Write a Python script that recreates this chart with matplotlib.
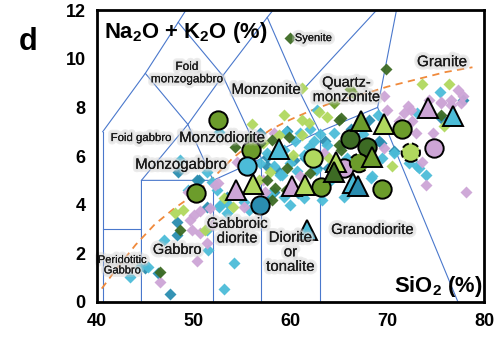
import matplotlib
matplotlib.use('Agg')
import matplotlib.pyplot as plt
import matplotlib.patheffects as pe

plt.rcParams['font.family'] = ['Liberation Sans', 'DejaVu Sans']
plt.rcParams['mathtext.fontset'] = 'custom'
plt.rcParams['mathtext.rm'] = 'Liberation Sans'
plt.rcParams['mathtext.bf'] = 'Liberation Sans:bold'
plt.rcParams['mathtext.default'] = 'bf'

# colours of the sample groups
dg = '#3d6b24'
mg = '#6c9c2b'
lg = '#b0d85e'
cy = '#4cbcd8'
dt = '#2a8db0'
li = '#cda5d6'

# small diamonds, one list per group (SiO2, Na2O+K2O)
dia_dg = [(60.0, 10.85), (69.9, 9.57), (46.5, 1.25), (48.6, 2.96), (54.3, 6.39), (55.7, 6.73),
          (58.1, 6.67), (56.9, 6.53), (57.6, 5.02), (54.6, 4.47), (59.65, 5.5), (59.5, 4.6),
          (58.4, 4.68), (59.8, 6.8), (65.0, 7.49), (65.0, 6.46), (65.2, 7.56), (75.5, 7.7),
          (58.1, 4.2), (65.2, 6.26), (62.0, 5.3)]
dia_mg = [(66.1, 8.75), (66.5, 8.6), (64.5, 8.18)]
dia_lg = [(73.6, 8.95), (76.4, 8.95), (61.2, 8.79), (59.3, 7.7), (61.2, 7.49), (61.9, 7.35),
          (62.9, 7.83), (63.8, 7.6), (57.2, 6.53), (58.8, 6.87), (60.3, 6.05), (57.9, 5.36),
          (56.7, 5.02), (62.6, 5.84), (61.2, 6.87), (63.96, 5.91), (70.5, 5.57), (75.9, 7.25),
          (54.1, 3.92), (48.9, 3.79), (48.1, 3.65), (53.1, 4.27), (51.2, 2.96), (56.0, 7.3)]
dia_cy = [(59.5, 7.0), (62.4, 6.6), (64.5, 6.94), (63.8, 6.46), (65.35, 6.46), (60.0, 5.7),
          (59.1, 5.23), (61.4, 4.27), (63.3, 4.2), (70.7, 6.12), (68.46, 5.16), (73.1, 7.77),
          (69.0, 7.7), (72.26, 5.7), (73.3, 5.5), (74.0, 5.23), (68.3, 5.09), (73.1, 5.57),
          (75.4, 8.62), (62.75, 7.9), (52.57, 7.0), (57.6, 6.12), (58.6, 6.19), (58.27, 5.57),
          (56.9, 5.7), (53.1, 0.52), (54.2, 1.59), (43.4, 1.04), (44.45, 1.45), (45.3, 1.45),
          (46.9, 2.55), (51.5, 2.14), (51.35, 2.96), (52.57, 3.92), (53.4, 4.06), (55.2, 4.13),
          (51.9, 4.95), (52.75, 3.99), (55.7, 3.79), (53.4, 3.65), (48.6, 5.84), (49.46, 4.6),
          (51.37, 5.36), (52.4, 4.6), (59.3, 6.26), (61.4, 6.05), (61.0, 6.94), (61.9, 6.39),
          (58.96, 5.23), (62.6, 5.43), (65.5, 4.33), (59.3, 4.33), (60.5, 6.6), (62.0, 7.1),
          (63.0, 6.9), (60.7, 5.4), (64.2, 5.0), (65.8, 5.9), (60.0, 4.0), (58.0, 4.5),
          (67.5, 6.9), (69.5, 5.9)]
dia_dt = [(47.56, 0.33), (46.35, 1.21), (48.26, 2.76), (48.26, 3.3), (51.35, 3.92), (50.33, 5.02),
          (48.4, 5.36), (50.5, 5.02), (53.4, 4.33), (57.6, 4.2), (57.6, 5.98), (56.9, 6.94),
          (59.65, 7.01), (63.6, 6.6), (57.6, 5.57), (60.35, 5.84), (58.8, 5.36), (58.27, 4.54),
          (62.75, 5.5), (69.3, 6.53), (69.15, 6.6), (70.7, 6.19), (68.1, 7.49), (75.5, 7.56),
          (77.8, 8.31), (45.0, 1.38), (61.5, 5.9), (63.9, 5.5), (60.8, 4.5), (66.3, 7.1)]
dia_li = [(46.5, 0.84), (50.33, 1.69), (51.35, 2.41), (50.67, 2.83), (49.8, 2.96), (49.6, 3.37),
          (50.0, 3.58), (50.67, 3.72), (51.9, 3.17), (52.5, 4.88), (54.47, 5.77), (52.2, 4.81),
          (55.2, 3.92), (49.46, 4.54), (51.7, 3.86), (58.27, 6.94), (57.2, 5.02), (61.0, 5.16),
          (63.45, 6.12), (57.4, 4.54), (70.0, 7.9), (72.1, 8.04), (72.4, 7.9), (71.74, 7.77),
          (72.6, 7.42), (72.95, 6.94), (74.7, 6.94), (75.5, 8.18), (76.6, 8.1), (69.67, 6.33),
          (74.0, 4.81), (78.1, 4.54), (73.6, 5.77), (71.9, 7.01), (77.3, 8.72), (77.8, 8.45),
          (69.67, 8.45), (74.33, 8.31), (75.5, 8.24), (76.6, 8.31), (77.6, 8.18), (71.2, 7.42),
          (56.55, 6.8)]

# large symbols: (SiO2, alkali, colour, dashed edge)
circles = [(52.55, 7.5, mg, False), (50.26, 4.47, mg, False), (55.9, 6.26, mg, False),
           (55.5, 5.57, cy, False), (56.9, 4.0, dt, False), (62.35, 5.91, lg, False),
           (63.2, 4.71, mg, False), (65.5, 5.5, li, False), (66.1, 6.7, dg, False),
           (67.95, 6.36, dg, False), (67.08, 5.71, mg, True), (72.43, 6.14, lg, True),
           (74.8, 6.32, li, False), (71.5, 7.1, mg, False), (69.5, 4.64, mg, False)]
triangles = [(58.8, 6.3, cy), (56.15, 4.85, lg), (54.35, 4.62, li), (60.17, 4.75, li),
             (61.55, 4.8, lg), (64.75, 5.74, lg), (64.5, 5.36, dg), (68.46, 5.98, mg),
             (66.45, 4.88, cy), (67.0, 4.77, dt), (67.27, 7.45, mg), (69.7, 7.3, lg),
             (74.16, 7.97, li), (76.75, 7.63, cy), (61.73, 2.96, cy)]

# field boundaries (Middlemost plutonic TAS)
fields = [
    [(40.6, 0), (40.6, 7)],
    [(40.6, 3), (44.6, 3)],
    [(44.6, 0), (44.6, 5), (52, 5), (57, 5.9), (63, 7), (69, 8), (77.3, 0)],
    [(52, 0), (52, 5)],
    [(57, 0), (57, 5.9)],
    [(63, 0), (63, 7)],
    [(69, 8), (70.95, 12)],
    [(40.6, 7), (45, 9.4), (48.4, 11.5), (49.2, 12)],
    [(44.6, 5), (49.4, 7.3), (53, 9.3), (57.6, 11.7), (58.2, 12)],
    [(45, 9.4), (49.4, 7.3), (52, 5)],
    [(48.4, 11.5), (53, 9.3), (57, 5.9)],
    [(57.6, 11.7), (61, 8.6), (63, 7)],
    [(61, 8.6), (68.9, 12)],
]

# alkaline / subalkaline divide
div_x = [40.5, 42, 44, 46, 48, 50, 52, 54, 56, 58, 60, 62, 64, 66, 68, 70, 72, 74, 76, 78.8]
div_y = [0.55, 1.35, 2.35, 3.2, 3.85, 4.4, 5.1, 5.9, 6.55, 7.1, 7.5, 7.85, 8.15, 8.4, 8.6,
         8.85, 9.05, 9.25, 9.45, 9.65]

labels = [
    ('Foid\nmonzogabbro', 49.3, 9.41, 8.5), ('Monzonite', 57.5, 8.72, 10.8),
    ('Granite', 75.65, 9.86, 11), ('Quartz-\nmonzonite', 65.8, 8.72, 10.5),
    ('Monzodiorite', 52.95, 6.74, 10.8), ('Foid gabbro', 44.56, 6.74, 8.2),
    ('Monzogabbro', 48.7, 5.64, 10.8), ('Gabbro', 48.3, 2.14, 10.5),
    ('Peridotitic\nGabbro', 42.64, 1.51, 8), ('Gabbroic\ndiorite', 54.5, 2.91, 10.8),
    ('Diorite\nor\ntonalite', 60.0, 2.04, 10.8), ('Granodiorite', 68.47, 2.96, 10.8),
]

fig = plt.figure(figsize=(4.97, 3.37), dpi=100)
ax = fig.add_axes([0.195, 0.104, 0.779, 0.866])

for line in fields:
    ax.plot([p[0] for p in line], [p[1] for p in line], color='#4a78cc', lw=0.8, zorder=1)

ax.plot(div_x, div_y, color='#f08a3c', lw=1.3, dashes=(4, 3), zorder=2)

for pts, c in [(dia_dt, dt), (dia_cy, cy), (dia_li, li), (dia_lg, lg), (dia_mg, mg), (dia_dg, dg)]:
    ax.plot([p[0] for p in pts], [p[1] for p in pts], 'D', color=c, ms=6.3, mec='none',
            alpha=0.95, zorder=3)

for x, y, c, dashed in circles:
    ax.scatter([x], [y], s=175, facecolor=c, edgecolor='black', linewidth=1.4,
               linestyle='--' if dashed else '-', zorder=4)

for x, y, c in triangles:
    ax.plot(x, y, '^', ms=15, color=c, mec='black', mew=1.4, zorder=5)

glow = [pe.withStroke(linewidth=5, foreground='#c8c8c8', alpha=0.35),
        pe.withStroke(linewidth=2.5, foreground='#e0e0e0', alpha=0.6), pe.Normal()]
for t, x, y, fs in labels:
    ax.text(x, y, t, fontsize=fs, ha='center', va='center', color='#1a1a1a',
            linespacing=1.05, path_effects=glow, zorder=6)
ax.text(60.45, 10.85, 'Syenite', fontsize=8, ha='left', va='center', color='#1a1a1a',
        path_effects=glow, zorder=6)

ax.text(40.72, 11.07, 'Na$_2$O + K$_2$O (%)', fontsize=15.8, fontweight='bold', ha='left',
        va='center', zorder=7)
ax.text(79.8, 0.63, 'SiO$_2$ (%)', fontsize=15.8, fontweight='bold', ha='right',
        va='center', zorder=7)

ax.set_xlim(40, 80)
ax.set_ylim(0, 12)
ax.set_xticks([40, 50, 60, 70, 80])
ax.set_yticks([0, 2, 4, 6, 8, 10, 12])
ax.tick_params(length=0, labelsize=13, pad=8)
for lab in ax.get_xticklabels() + ax.get_yticklabels():
    lab.set_fontweight('bold')
for s in ax.spines.values():
    s.set_linewidth(2)
    s.set_zorder(8)

fig.text(0.056, 0.875, 'd', fontsize=22, fontweight='bold', ha='center', va='center')

fig.savefig('out.png', dpi=100)
